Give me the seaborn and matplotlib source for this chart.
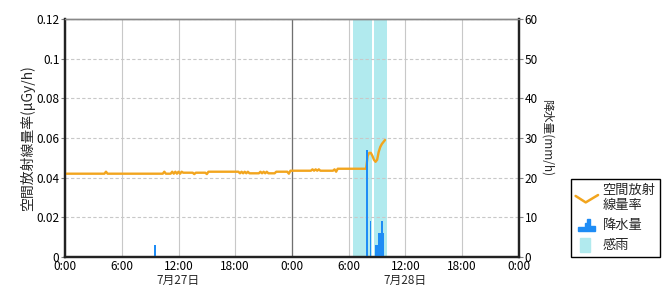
import matplotlib
matplotlib.use("Agg")
import matplotlib.pyplot as plt
import seaborn as sns
import numpy as np
import pandas as pd
from matplotlib.legend_handler import HandlerBase
from matplotlib.lines import Line2D
from matplotlib.patches import Patch, Polygon, Rectangle

sns.set_style("white")
plt.rcParams['font.family'] = ['Noto Sans CJK JP', 'DejaVu Sans']

# ---------------- data ----------------
# air dose rate (x0.001 uGy/h), 10-minute samples, one row per hour from 7/27 0:00
rad_rows = [
    [42, 42, 42, 42, 42, 42],            # 7/27 0h
    [42, 42, 42, 42, 42, 42],
    [42, 42, 42, 42, 42, 42],
    [42, 42, 42, 42, 42, 42],
    [42, 42, 43, 42, 42, 42],
    [42, 42, 42, 42, 42, 42],            # 5h
    [42, 42, 42, 42, 42, 42],
    [42, 42, 42, 42, 42, 42],
    [42, 42, 42, 42, 42, 42],
    [42, 42, 42, 42, 42, 42],
    [42, 42, 42, 43, 42, 42],            # 10h
    [42, 42, 43, 42, 43, 42],
    [43, 42, 43, 42.5, 42.5, 42.5],
    [42.5, 42.5, 42.5, 42.5, 41.8, 42.5],
    [42.5, 42.5, 42.5, 42.5, 42.5, 42.5],
    [41.8, 43, 43, 43, 43, 43],          # 15h
    [43, 43, 43, 43, 43, 43],
    [43, 43, 43, 43, 43, 43],
    [43, 43, 43, 42.2, 43, 42.2],
    [43, 42.2, 43, 42.2, 42.2, 42.2],
    [42.2, 42.2, 42.2, 42.2, 43, 42.2],  # 20h
    [43, 42.2, 43, 42.2, 42.2, 42.2],
    [42.2, 42.2, 43, 43, 43, 43],
    [43, 43, 43, 43, 42, 43.5],
    [43.5, 43.5, 43.5, 43.5, 43.5, 43.5],  # 7/28 0h
    [43.5, 43.5, 43.5, 43.5, 43.5, 43.5],
    [43.5, 44.2, 43.5, 44.2, 43.5, 44.2],
    [43.5, 43.5, 43.5, 43.5, 43.5, 43.5],
    [43.5, 43.5, 43.5, 44.2, 43, 44.5],
    [44.5, 44.5, 44.5, 44.5, 44.5, 44.5],  # 5h
    [44.5, 44.5, 44.5, 44.5, 44.5, 44.5],
    [44.5, 44.5, 44.5, 44.5, 44.5, 44.5],
    [51, 52.5, 52.5, 51, 49, 48],
    [49, 53, 55.5, 57, 58, 59],
]
rad_step_minutes = 10

# precipitation (mm/h): bar time (hours since 7/27 0:00) and value
rain_hours = [9.5, 31.9, 32.3, 32.83, 33.0, 33.17, 33.33, 33.5, 33.67]
rain_values = [3, 27, 9, 3, 3, 6, 6, 9, 6]

# rain-sensor (感雨) periods, hours since 7/27 0:00
wet_start = [30.5, 32.67]
wet_end = [32.5, 34.0]

xtick_hours = [0, 6, 12, 18, 24, 30, 36, 42, 48]
xtick_labels = ['0:00', '6:00', '12:00', '18:00', '0:00', '6:00', '12:00', '18:00', '0:00']
date_hours = [12, 36]
date_labels = ['7月27日', '7月28日']
left_ticks = [0, 0.02, 0.04, 0.06, 0.08, 0.1, 0.12]
left_labels = ['0', '0.02', '0.04', '0.06', '0.08', '0.1', '0.12']
right_ticks = [0, 10, 20, 30, 40, 50, 60]
right_labels = ['0', '10', '20', '30', '40', '50', '60']

left_title = '空間放射線量率(μGy/h)'
right_title = '降水量(mm/h)'
legend_labels = ['空間放射\n線量率', '降水量', '感雨']

# ---------------- build ----------------
rad_vals = [v / 1000.0 for row in rad_rows for v in row]
rad_t = [i * rad_step_minutes / 60.0 for i in range(len(rad_vals))]
df = pd.DataFrame({'t': rad_t, 'rate': rad_vals})

LINE_C = '#f2a51e'
RAIN_C = '#1e8cf5'
WET_C = '#b1eaee'
FS = 8.5

fig = plt.figure(figsize=(6.7, 3.0), dpi=100)
ax = fig.add_axes([65 / 670, 43 / 300, 454 / 670, 238 / 300])
ax2 = ax.twinx()

for s, e in zip(wet_start, wet_end):
    ax.axvspan(s, e, color=WET_C, lw=0, zorder=0.2)

ax.set_axisbelow(True)
ax.xaxis.grid(True, color='#c8c8c8', lw=0.8, ls='-')
ax.yaxis.grid(True, color='#c8c8c8', lw=0.8, ls=(0, (3, 2)))
ax.axvline(24, color='#707070', lw=0.9, zorder=0.6)

sns.lineplot(data=df, x='t', y='rate', ax=ax, color=LINE_C, lw=1.7, zorder=3)
ax2.bar(rain_hours, rain_values, width=0.17, color=RAIN_C, align='center',
        linewidth=0, zorder=2)

ax.set_xlim(0, 48)
ax.set_ylim(0, 0.12)
ax2.set_ylim(0, 60)
ax.set_xticks(xtick_hours)
ax.set_xticklabels(xtick_labels, fontsize=FS)
ax.set_yticks(left_ticks)
ax.set_yticklabels(left_labels, fontsize=FS)
ax2.set_yticks(right_ticks)
ax2.set_yticklabels(right_labels, fontsize=FS)
ax.set_xlabel('')
ax.set_ylabel(left_title, fontsize=10, labelpad=1)
ax2.set_ylabel(right_title, fontsize=8.5, rotation=270, labelpad=11)

for a in (ax, ax2):
    a.tick_params(axis='both', length=3, width=0.8, color='#808080', pad=1, labelcolor='black')
    for side in ('left', 'right', 'bottom'):
        a.spines[side].set_color('#222222')
        a.spines[side].set_linewidth(1.6)
    a.spines['top'].set_color('#888888')
    a.spines['top'].set_linewidth(1.0)
ax.tick_params(axis='x', length=0, pad=2)

trans = ax.get_xaxis_transform()
for h, lab in zip(date_hours, date_labels):
    ax.text(h, -0.072, lab, transform=trans, ha='center', va='top', fontsize=FS)


class VHandler(HandlerBase):
    def create_artists(self, legend, orig_handle, xdescent, ydescent, width, height, fontsize, trans):
        xs = np.array([0.0, 0.45, 1.0]) * width - xdescent
        ys = np.array([0.75, 0.05, 0.85]) * height - ydescent
        return [Line2D(xs, ys, color=LINE_C, lw=1.8, transform=trans)]


class StepHandler(HandlerBase):
    def create_artists(self, legend, orig_handle, xdescent, ydescent, width, height, fontsize, trans):
        w, h = width, height * 1.3
        x0, y0 = -xdescent + 0.1 * width, -ydescent - 0.2 * height
        pts = [(0, 0), (0, 0.35), (0.3, 0.35), (0.3, 0.7), (0.42, 0.7), (0.42, 1.0),
               (0.55, 1.0), (0.55, 0.45), (0.75, 0.45), (0.75, 0.0)]
        pts = [(x0 + px * w, y0 + py * h) for px, py in pts]
        return [Polygon(pts, closed=True, color=RAIN_C, transform=trans)]


class RectHandler(HandlerBase):
    def create_artists(self, legend, orig_handle, xdescent, ydescent, width, height, fontsize, trans):
        r = Rectangle((-xdescent + 0.2 * width, -ydescent - 0.25 * height), 0.45 * width, 1.5 * height,
                      color=WET_C, transform=trans)
        return [r]


h_line = Line2D([], [], color=LINE_C)
h_rain = Patch(color=RAIN_C)
h_wet = Patch(color=WET_C)
leg = fig.legend([h_line, h_rain, h_wet], legend_labels,
                 handler_map={h_line: VHandler(), h_rain: StepHandler(), h_wet: RectHandler()},
                 loc='lower left', bbox_to_anchor=(571 / 670, 43 / 300),
                 prop={'size': 9.5}, frameon=True, fancybox=False, framealpha=1,
                 edgecolor='black', handlelength=1.7, handletextpad=0.35,
                 borderpad=0.35, labelspacing=0.55, borderaxespad=0)
leg.get_frame().set_linewidth(1.0)

fig.savefig('out.png', dpi=100)
